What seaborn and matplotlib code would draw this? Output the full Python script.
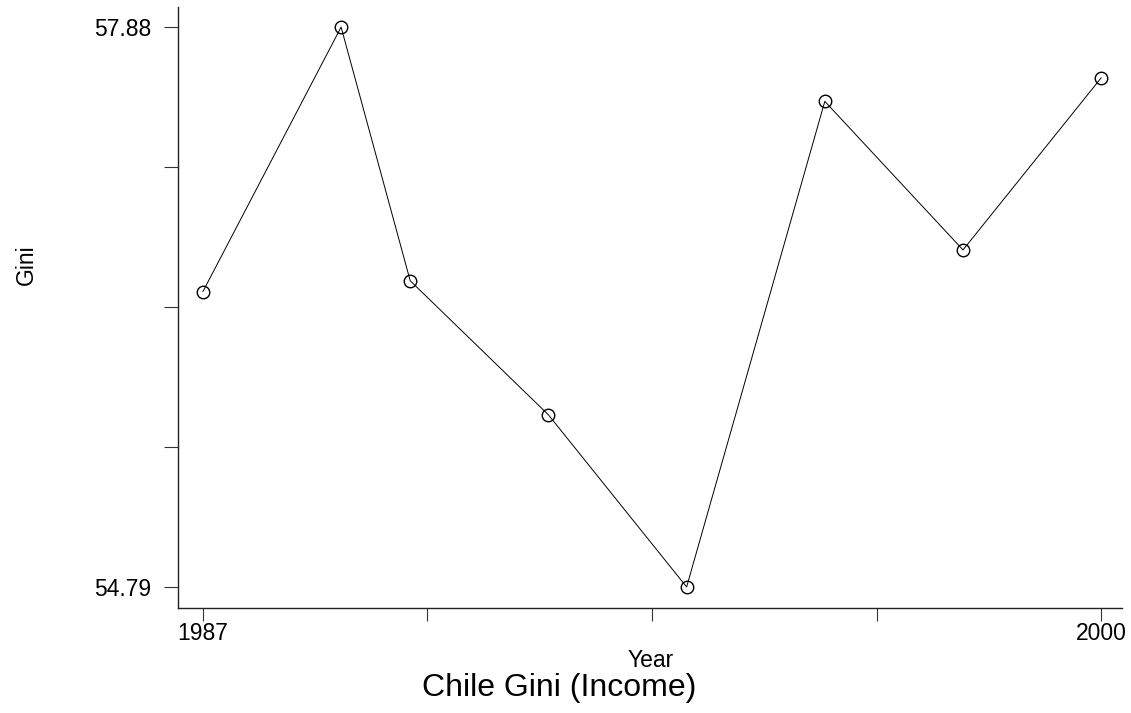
import numpy as np
import pandas as pd
import matplotlib
matplotlib.use('Agg')
import matplotlib.pyplot as plt
import seaborn as sns

# DATA
years = [1987, 1989, 1990, 1992, 1994, 1996, 1998, 2000]
gini = [56.42, 57.88, 56.48, 55.74, 54.79, 57.47, 56.65, 57.60]

y_min, y_max = 54.79, 57.88
x_min, x_max = 1987, 2000
y_tick_labels = ['54.79', '', '', '', '57.88']
x_tick_labels = ['1987', '', '', '', '2000']

df = pd.DataFrame({'Year': years, 'Gini': gini})

sns.set_style('ticks')
plt.rcParams['font.family'] = ['Liberation Sans', 'DejaVu Sans']
plt.rcParams['text.color'] = 'black'
plt.rcParams['axes.labelcolor'] = 'black'
plt.rcParams['xtick.labelcolor'] = 'black'
plt.rcParams['ytick.labelcolor'] = 'black'

fig = plt.figure(figsize=(11.31, 7.13), dpi=100)
ax = fig.add_axes([0.1574, 0.1473, 0.8346, 0.8427])

sns.lineplot(
    data=df, x='Year', y='Gini', ax=ax,
    color='black', linewidth=0.7,
    marker='o', markersize=9, markerfacecolor='none',
    markeredgecolor='black', markeredgewidth=1.0,
)

ax.set_xlim(1986.64, 2000.30)
ax.set_ylim(54.674, 57.99)
ax.set_xticks(np.linspace(x_min, x_max, 5))
ax.set_xticklabels(x_tick_labels)
ax.set_yticks(np.linspace(y_min, y_max, 5))
ax.set_yticklabels(y_tick_labels)

for side in ['top', 'right']:
    ax.spines[side].set_visible(False)
for side in ['left', 'bottom']:
    ax.spines[side].set_color('#222222')
    ax.spines[side].set_linewidth(1.0)

ax.tick_params(axis='x', length=9, width=0.8, color='#333333', pad=1, labelsize=16.5)
ax.tick_params(axis='y', length=10, width=0.8, color='#333333', pad=9, labelsize=16.5)

ax.set_xlabel('Year', fontsize=16.5, va='baseline')
ax.xaxis.set_label_coords(0.5005, -0.0982)
ax.set_ylabel('Gini', fontsize=16.5)
ax.yaxis.set_label_coords(-0.148, 0.5707)

fig.text(0.4947, 0.0238, 'Chile Gini (Income)', fontsize=23, ha='center', va='baseline')

fig.savefig('out.png', dpi=100)
